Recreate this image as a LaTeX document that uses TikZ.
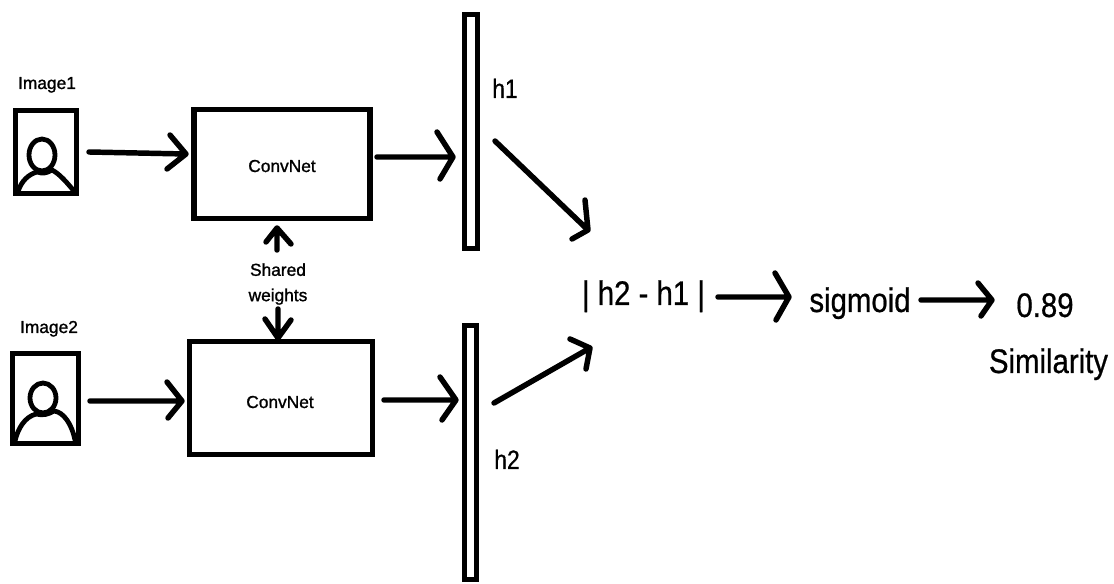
\documentclass[tikz,border=0pt]{standalone}
\usepackage{fontspec}
\setmainfont{Liberation Sans}
\newfontface\heavier{Liberation Sans}[FakeBold=1.2]
\newfontface\heavy{Liberation Sans}[FakeBold=0.7]
\tikzset{
  x=0.75pt,y=-0.75pt,
  frame/.style={draw=black,line width=#1,fill=white,inner sep=0pt,line join=miter},
  conn/.style={draw=black,line width=4.1pt,line cap=round,line join=round},
  icon/.style={draw=black,line width=3.6pt,line cap=round,line join=round},
  lab/.style={inner sep=0pt,text=black,anchor=base},
  small/.style={lab,font=\fontsize{13}{15}\selectfont\heavier},
  mid/.style={lab,font=\fontsize{20}{22}\selectfont\heavy},
  big/.style={lab,font=\fontsize{25.6}{28}\selectfont\heavy},
}
\newcommand{\nar}[1]{\scalebox{0.86}[1]{#1}}
\begin{document}
\begin{tikzpicture}
\useasboundingbox (0,0) rectangle (1114,584);
\fill[white] (0,0) rectangle (1114,584);

% boxes (centre-line sizes in px of the reference)
\node[frame=4pt,minimum width=61*0.75pt,minimum height=83*0.75pt] (photoA) at (46,152) {};
\node[frame=4pt,minimum width=66*0.75pt,minimum height=90*0.75pt] (photoB) at (45.5,398.5) {};
\node[frame=4pt,minimum width=176*0.75pt,minimum height=109*0.75pt] (netA) at (282,164) {};
\node[frame=4pt,minimum width=183*0.75pt,minimum height=113*0.75pt] (netB) at (281,398) {};
\node[frame=3.9pt,minimum width=13.5*0.75pt,minimum height=234*0.75pt] (barA) at (471,131.5) {};
\node[frame=3.9pt,minimum width=12*0.75pt,minimum height=254*0.75pt] (barB) at (470.5,452.5) {};

% person icons
\draw[icon] (42,155) ellipse [x radius=13,y radius=16];
\draw[icon] (18,192) .. controls (21,181) and (29,174) .. (37,172) .. controls (43,174) and (47,173) .. (52,170) .. controls (60,174) and (68,184) .. (74,191);
\draw[icon] (43,398) ellipse [x radius=13,y radius=15];
\draw[icon] (15,441) .. controls (18,428) and (25,417) .. (36,414) .. controls (43,416) and (49,414) .. (54,411) .. controls (64,412) and (72,425) .. (75,440);

% labels
\node[small] (lblImgA) at (47,89) {Image1};
\node[small] (lblImgB) at (49,333) {Image2};
\node[small] (txtA) at (282,172) {ConvNet};
\node[small] (txtB) at (280,408) {ConvNet};
\node[small,anchor=center,align=center,font=\fontsize{13}{19}\selectfont\heavier] (shared) at (278,284) {Shared\\weights};
\node[mid] (h1) at (505,98) {\nar{h1}};
\node[mid] (h2) at (507,469) {\nar{h2}};
\node[big] (diff) at (643.5,305) {\nar{| h2 - h1 |}};
\node[big] (sig) at (860,312) {\nar{sigmoid}};
\node[big] (val) at (1045,317) {\nar{0.89}};
\node[big] (sim) at (1048.5,373) {\nar{Similarity}};

% connectors: shaft, then the open head through its tip
\coordinate (a1) at (89,152); \coordinate (a2) at (186,154);
\coordinate (a3) at (170,135); \coordinate (a4) at (167,169);
\draw[conn] (a1) -- (a2) (a3) -- (a2) -- (a4);

\coordinate (b1) at (90,401); \coordinate (b2) at (182,401);
\coordinate (b3) at (167,382); \coordinate (b4) at (168,418);
\draw[conn] (b1) -- (b2) (b3) -- (b2) -- (b4);

\coordinate (c1) at (377,157); \coordinate (c2) at (453,157);
\coordinate (c3) at (437,132); \coordinate (c4) at (440,179);
\draw[conn] (c1) -- (c2) (c3) -- (c2) -- (c4);

\coordinate (d1) at (384,400); \coordinate (d2) at (456,400);
\coordinate (d3) at (440,377); \coordinate (d4) at (442,420);
\draw[conn] (d1) -- (d2) (d3) -- (d2) -- (d4);

\coordinate (e1) at (277,250); \coordinate (e2) at (277,228);
\coordinate (e3) at (266,242); \coordinate (e4) at (291,244);
\draw[conn] (e1) -- (e2) (e3) -- (e2) -- (e4);

\coordinate (f1) at (278,309); \coordinate (f2) at (278,338);
\coordinate (f3) at (265,319); \coordinate (f4) at (291,320);
\draw[conn] (f1) -- (f2) (f3) -- (f2) -- (f4);

\coordinate (g1) at (495,141); \coordinate (g2) at (588,230);
\coordinate (g3) at (585,200); \coordinate (g4) at (572,239);
\draw[conn] (g1) -- (g2) (g3) -- (g2) -- (g4);

\coordinate (i1) at (494,403); \coordinate (i2) at (590,348);
\coordinate (i3) at (570,339); \coordinate (i4) at (586,369);
\draw[conn] (i1) -- (i2) (i3) -- (i2) -- (i4);

\coordinate (j1) at (718,297); \coordinate (j2) at (789,297);
\coordinate (j3) at (775,273); \coordinate (j4) at (776,320);
\draw[conn] (j1) -- (j2) (j3) -- (j2) -- (j4);

\coordinate (k1) at (921,300); \coordinate (k2) at (992,300);
\coordinate (k3) at (978,283); \coordinate (k4) at (981,316);
\draw[conn] (k1) -- (k2) (k3) -- (k2) -- (k4);
\end{tikzpicture}
\end{document}
